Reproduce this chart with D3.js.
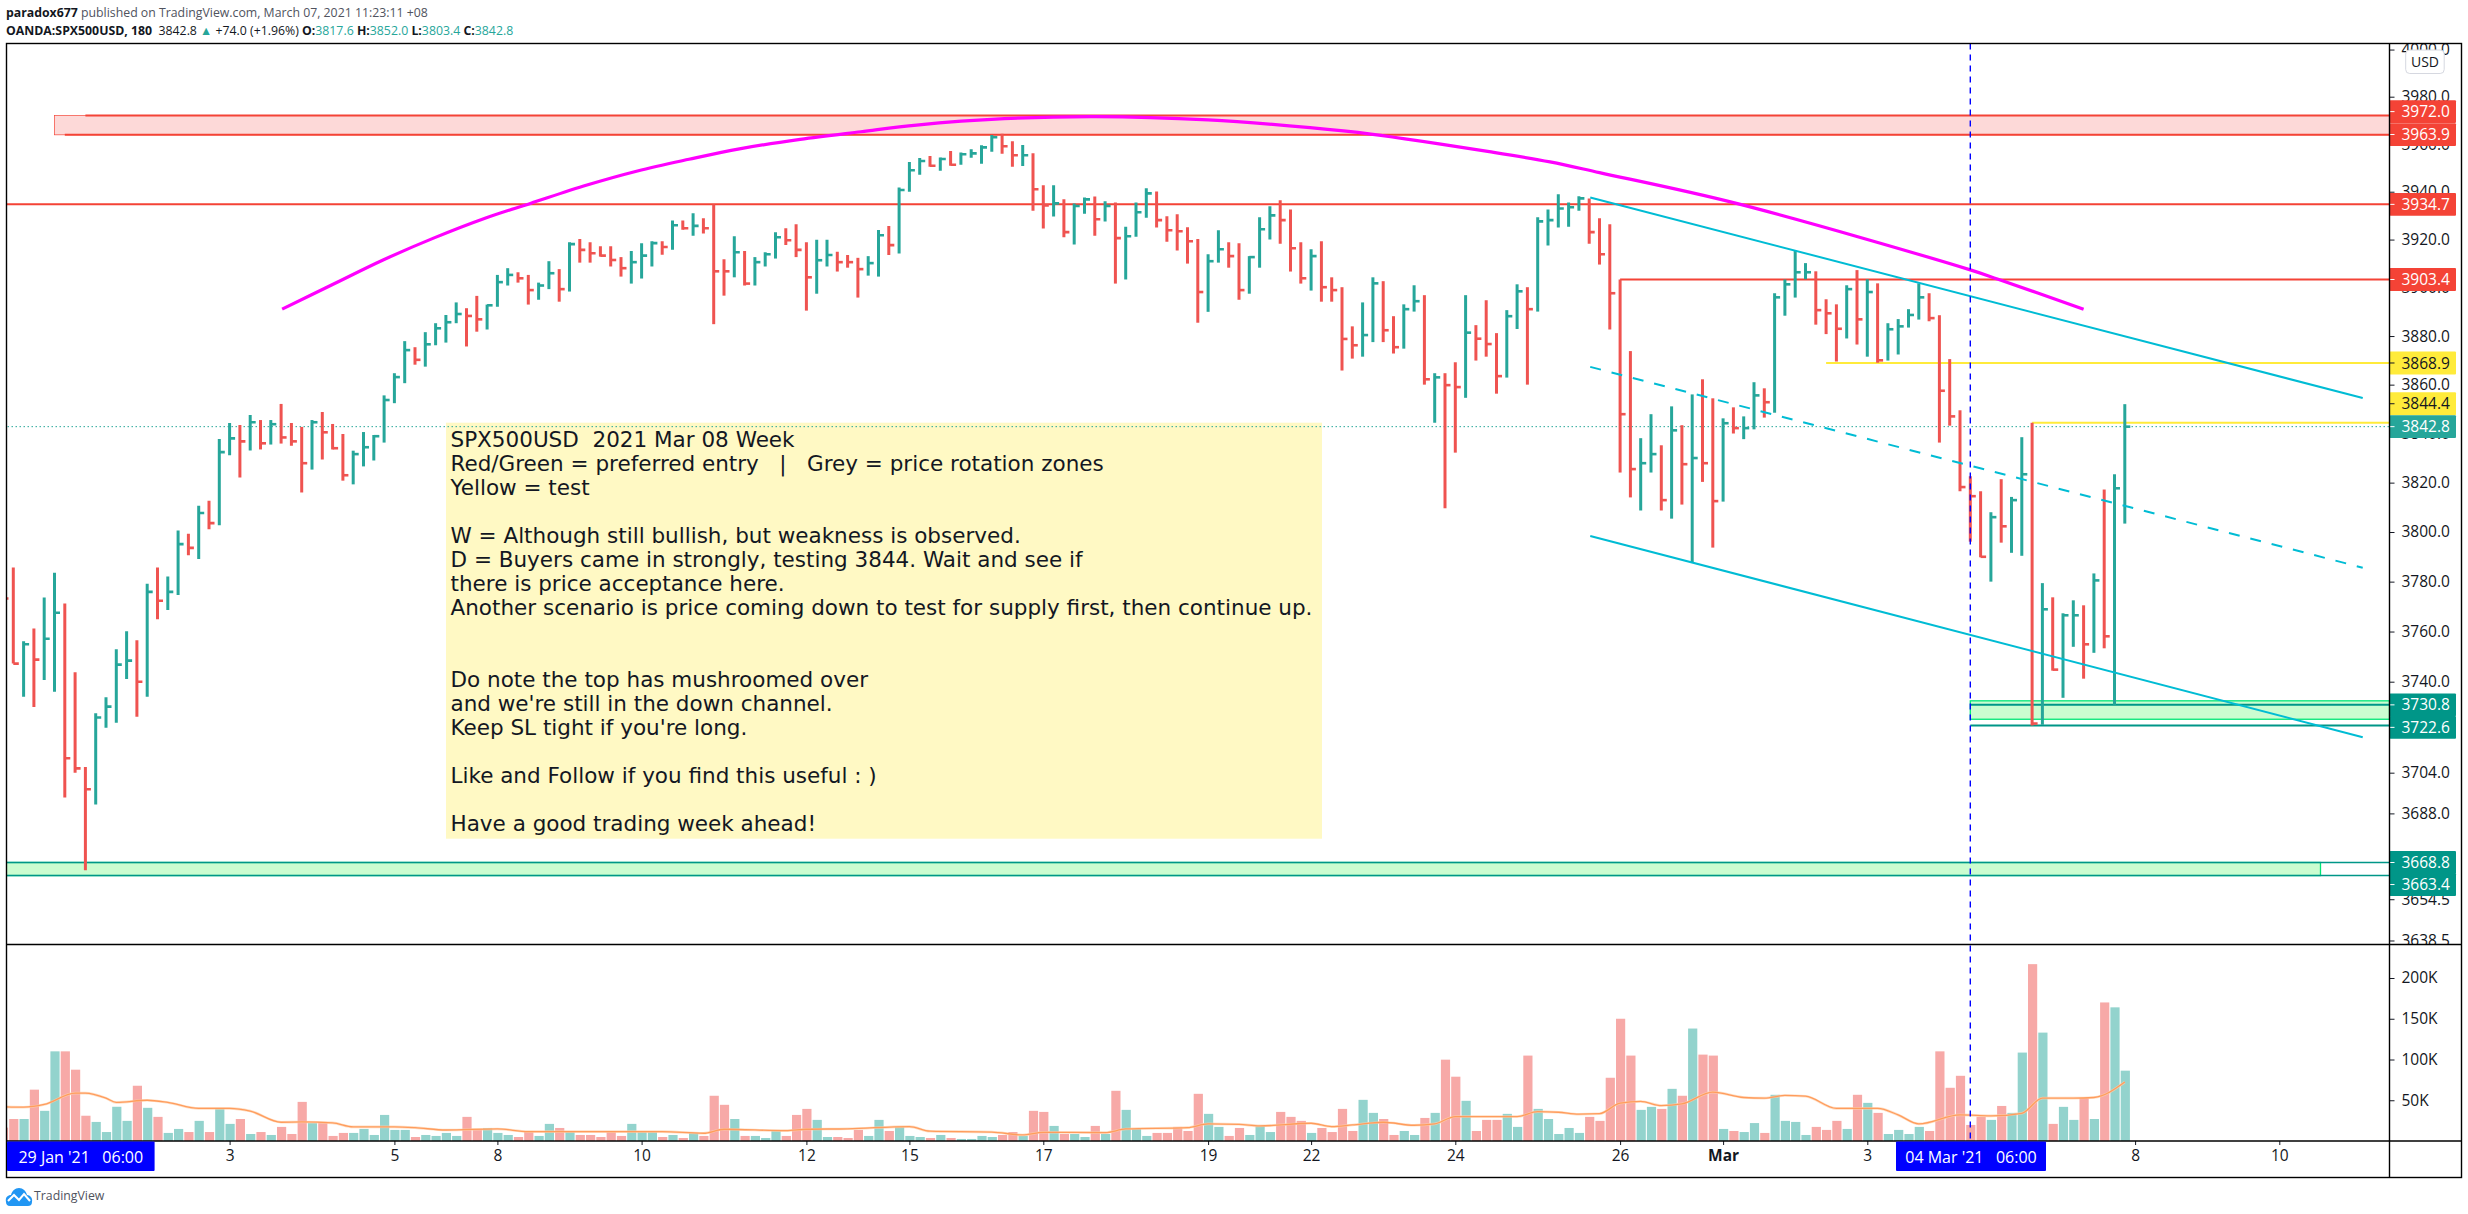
<!DOCTYPE html>
<html><head><meta charset="utf-8">
<script src="https://cdn.jsdelivr.net/npm/d3@7"></script>
<style>
html,body{margin:0;padding:0;background:#fff;overflow:hidden}
svg{display:block}
text{font-family:"Open Sans",sans-serif;white-space:pre}
</style></head><body>
<svg id="c" width="2468" height="1214"></svg>
<script>
// ---------- data ----------
const highs=[
3785,3785.7,3756.1,3761.2,3773.6,3783.6,3771.2,3743.8,3706.2,3727.5,
3733.8,3752.9,3760.1,3756.5,3779.2,3785.7,3782.1,3800.6,3799.3,3810.6,
3812.6,3837.8,3844.3,3843.5,3847.6,3845.5,3845.5,3852.1,3844.3,3842.7,
3845.5,3848.8,3843.9,3839.8,3833,3840.6,3839.4,3855.6,3864.7,3877.9,
3875.4,3881.6,3885.3,3888.7,3893.9,3891.5,3896.6,3893,3905.3,3908.1,
3906.4,3905.3,3902.1,3911,3907.7,3918.9,3920.2,3918.9,3917.2,3917.2,
3912.7,3915.2,3918.5,3919.3,3919.3,3928,3928,3931,3928.9,3934.7,
3911.8,3921.4,3915.2,3912.7,3914.7,3923.1,3924.7,3926.4,3918.9,3919.9,
3919.9,3914.9,3913.6,3912.4,3913.1,3924,3925.7,3941.8,3952.5,3954.1,
3955,3954.4,3957.1,3956.5,3957.8,3959.5,3963.8,3964.4,3961.2,3959.6,
3956.1,3942.7,3942.7,3936.8,3935.1,3937.6,3938,3936,3935.5,3925.3,
3935.5,3941.4,3940.1,3929.7,3930.6,3925.1,3920.2,3913.9,3923.9,3918.9,
3918.5,3913.1,3929.3,3933.9,3936.4,3932.6,3918.9,3916,3919.3,3904.3,
3900.2,3884,3893.9,3904.3,3902.7,3888.2,3893.1,3901,3896.9,3864.7,
3864.7,3869.2,3896.9,3884.5,3894.8,3881.2,3890.7,3901.4,3900.2,3929.3,
3932.6,3938.9,3935.5,3938.1,3937.2,3928.9,3926.4,3903.4,3873.8,3838.1,
3847.9,3835.2,3851.1,3843.4,3856,3862.2,3854.4,3846.2,3850.7,3847,
3861,3858.5,3897.7,3903.4,3915.6,3910.2,3906.8,3895.2,3893.1,3901,
3907.3,3903.5,3901.8,3885.3,3887,3891.1,3901.8,3897.7,3888.6,3870.5,
3849.5,3822.6,3816.5,3808,3821.4,3814.2,3838.5,3844.4,3779.4,3773.7,
3767.3,3772.5,3770.5,3783.3,3817.2,3823.4,3852];
const lows=[
3760,3747.2,3734,3730,3740.7,3736,3694.2,3704,3665.8,3691.5,
3721.7,3723.7,3741.1,3726.1,3734,3764.9,3768.6,3774.6,3790.6,3789.1,
3801.1,3802.7,3831.1,3822.1,3833.1,3833.5,3835.5,3835.9,3835,3816,
3825.3,3829.4,3833.5,3820.8,3819.3,3826.6,3829,3836.3,3852.4,3860.6,
3868.2,3867.4,3876.2,3877.3,3885.3,3875.7,3881.8,3882.7,3892.1,3900.9,
3902.1,3893,3895,3899.4,3894.2,3898.4,3910.4,3910.4,3912.9,3908.8,
3904.6,3901.7,3903.8,3908.8,3913.7,3915.8,3924.1,3921.6,3922.5,3884.9,
3896.7,3904.3,3900.9,3900.9,3908.8,3912.1,3917.7,3912.7,3890.5,3897.5,
3908.8,3906.7,3908.3,3895.9,3905,3904.6,3913.6,3914.2,3940,3947.1,
3950.5,3948.8,3950.9,3951.3,3954.3,3951.7,3956.8,3955.9,3950.5,3950.8,
3932,3924.6,3929.6,3921,3917.9,3930.8,3921.6,3927.5,3901.7,3903.4,
3921.2,3929.1,3925,3919.1,3915.4,3910,3885.5,3890,3910.4,3908.3,
3895,3897.5,3908.3,3920,3918.3,3906.7,3901.7,3898.8,3894.2,3894.2,
3865.8,3870.7,3871.5,3877.5,3877.5,3872.8,3874.8,3890.1,3860,3844.4,
3809.6,3832.2,3854.6,3869.9,3871.5,3856.3,3862.9,3882.9,3860,3890.1,
3917.5,3925,3925.4,3932,3918.3,3909.6,3882.7,3824.1,3814,3808.7,
3824.1,3808.7,3805.4,3811.1,3787.9,3820.3,3793.7,3812.3,3840,3837.7,
3841.7,3846.5,3848.5,3888.4,3895.9,3903.5,3884.7,3880.8,3869.5,3879,
3876.5,3871.5,3869,3869.9,3872.4,3883.5,3886.8,3886.1,3836.3,3843.2,
3816.5,3796.1,3789.8,3780,3795.7,3791.6,3790.4,3722.6,3722.9,3744.4,
3733.6,3753.9,3741.2,3751.5,3753.3,3730.8,3803.4];
const closes=[
3773.2,3747.2,3754.9,3748.8,3757.1,3767.5,3709.7,3705.7,3697.5,3725.8,
3730.1,3746.8,3748.4,3740,3775.9,3772.3,3775.9,3795.1,3793.6,3807.7,
3803.6,3832.4,3838,3836.8,3844.6,3836,3843.8,3838.4,3836.8,3827.9,
3844.6,3840.5,3834,3823,3831.6,3834.4,3838.9,3853.7,3863.1,3874.2,
3870.2,3876.6,3883.2,3885.7,3889.1,3888.3,3886.9,3892.7,3902.3,3905.3,
3903.9,3899,3900.9,3906,3899.4,3918.1,3915.7,3914.3,3913.3,3911.5,
3908.1,3910.6,3913.3,3918.5,3916.9,3926,3924.7,3925.7,3924.7,3906.8,
3906.8,3914.7,3901.7,3910.6,3913.9,3921,3919.7,3915.7,3904.3,3911.4,
3913.6,3910.6,3910.6,3907.7,3910.2,3921.8,3917.7,3940.7,3949,3952.9,
3950.9,3953.7,3951.3,3955.7,3956.1,3958.6,3962.9,3959.1,3955.3,3955.3,
3941,3934.3,3935.1,3923.1,3934,3936.8,3928.5,3934,3920.6,3921.4,
3931.4,3939.3,3928.1,3923.9,3923.5,3919.3,3898.2,3911,3916,3913.1,
3899,3912.7,3924.3,3930.1,3928.1,3916.4,3903.9,3913.1,3900.2,3899,
3878.8,3876.2,3880.4,3901.8,3882.4,3875.4,3891.1,3894.4,3862.2,3863,
3859.8,3859,3881.4,3878.9,3876.7,3863.5,3888.2,3898.5,3891.1,3927.6,
3928.1,3933,3933.5,3937.2,3923.1,3913.9,3897.7,3847.9,3825.5,3827.9,
3831.6,3812.9,3841.3,3827.5,3830,3827.9,3812.5,3844.2,3842.2,3842.2,
3855.6,3852.8,3896,3901.4,3906.4,3906.4,3890.7,3889.4,3883,3899.4,
3886.9,3898.2,3870,3882.8,3884,3888.7,3896,3887.4,3857.5,3847,
3818.2,3814.5,3790,3806,3802.3,3812.9,3823.4,3723.4,3768.9,3744.8,
3766.5,3766.5,3754.9,3780.5,3758.1,3817.7,3842.8];
const barDirections=("rrgrggrrrg"+"gggrgrggrg"+"rggrgrgrrr"+"grrrgggggg"+"rggggrrggg"+
"rrggrgrrrr"+"rgggrgrgrr"+"rgrgggrrrg"+"grrrggrggg"+"rgrggggrrg"+
"rrgrggrgrg"+"ggrrrrrggr"+"rgggrrrgrr"+"rrggrrggrg"+"rrgrrrggrg"+
"ggggrrrrrg"+"grgrgrrgrg"+"grggggrrrg"+"rgrggggrrr"+"rrrgrggrgr"+"ggrgrgg").split("");
const volumesK=[
16.4,27,27,63,37,110,110,87.5,31,23.4,
11,42,24.7,67.8,40.7,29.6,9.9,14.8,11,24.7,
11,39.4,21,27,8.6,11,7.4,17.3,8.6,48,
22,23.4,6.2,9.9,9.9,14.8,7.4,32,13.6,13.6,
4.9,7.4,6.2,9.9,6.2,29.6,14.8,16,9.9,7.4,
4.9,12.3,6.2,21,16,11,7.4,7.4,4.9,11,
6.2,21,12.3,11,4.9,7.4,3.7,9.9,6.2,55.5,
44.4,27,6.2,6.2,3.7,12.3,6.2,32,39.4,25.9,
4.9,4.9,3.7,13.6,6.2,25.9,12.3,17.3,6.2,4.9,
3.7,7.4,3.7,2.5,2.5,6.2,4.9,7.4,11,6.2,
37,35.7,18.5,8.6,8.6,4.9,18.5,8.6,61.6,38.2,
14.8,6.2,9.9,9.9,17.3,12.3,57.9,33.3,17.3,6.2,
16,7.4,18.5,11,35.7,29.6,24.7,9.9,16,11,
39.4,12.3,50.5,34.5,27,7.4,12.3,7.4,28.3,34.5,
99.8,78.9,49.3,12.3,25.9,25.9,33.3,17.3,104.8,39.4,
27,8.6,16,9.9,29.6,24.7,77.6,150,104.8,38.2,
41.9,39.4,64,55.5,138,106,104.8,14.8,12.3,11,
22,9.9,56.7,24.7,23.4,7.4,17.3,13.6,24.7,14.8,
56.7,46.8,34.5,8.6,13.6,8.6,17.3,12.3,110,65.3,
80,19.7,29.6,25.9,43,34.5,108.5,217,133,21,
41.9,25.9,53,27,170,164,86.3];
const maIndex=[0,2,4,7,8,10,11,14,16,19,22,24,27,29,32,34,38,40,43,48,51,57,64,68,70,76,78,
82,88,90,96,99,101,107,109,115,117,120,122,127,129,131,134,137,139,141,147,149,151,153,155,
157,159,161,163,166,169,171,173,175,178,182,184,186,190,193,196,198,201,203,206];
const maValueK=[42,41.5,44.8,58.8,58.8,52.6,47.3,50,47.3,40,40,36.7,23,23.4,22.2,17.3,17.3,16.4,13.5,14.8,11.5,11.5,11.5,9.5,14.4,12.7,14.4,
15,17.7,12,11,7.4,10.7,10.3,14.8,16.4,21,20.5,18.5,21.8,17.7,19.7,23,19.3,21,30,30,36,35.3,32.9,33.5,
46.4,48.5,43.5,45.6,60,53.4,52.6,55.9,55,40,40,32,21,32,30.8,34,52.6,52.6,53.4,72.3];
const arcIndex=[27.1,31.9,36.9,41.8,46.8,51.2,56.7,61.6,66.6,71.5,77.4,83.3,88.7,97.2,106.1,117,126.9,132.8,144.3,150.2,155,168.3,191,193.7,202];
const arcPrice=[3891.1,3901.1,3911.5,3920.6,3928.9,3935.1,3942.8,3948.7,3953.6,3958,3962,3965.2,3968,3970.7,3971.6,3970.2,3966.9,3964.2,3956.8,3952.5,3948,3935.1,3907.4,3903.5,3891.1];
const channelIndex=[154.1,229.1];
const channelTop=[3937.6,3854.5];
const channelMid=[3867.3,3785.6];
const channelBottom=[3798.4,3718];
const priceTicks=[4000,3980,3960,3940,3920,3900,3880,3860,3840,3820,3800,3780,3760,3740,3704,3688,3654.5,3638.5];
const volumeTicksK=[50,100,150,200];
const timeTickIndex=[22,38,48,62,78,88,101,117,127,141,157,167,181,207,221];
const timeTickLabels=["3","5","8","10","12","15","17","19","22","24","26","Mar","3","8","10"];
const levelValues=[3972.0,3963.9,3934.7,3903.4,3868.9,3844.4,3842.8,3730.8,3722.6,3668.8,3663.4];
const levelKinds=["red","red","red","red","yellow","yellow","last","teal","teal","teal","teal"];
const noteLines=["SPX500USD  2021 Mar 08 Week",
"Red/Green = preferred entry   |   Grey = price rotation zones",
"Yellow = test","",
"W = Although still bullish, but weakness is observed.",
"D = Buyers came in strongly, testing 3844. Wait and see if",
"there is price acceptance here.",
"Another scenario is price coming down to test for supply first, then continue up.",
"","",
"Do note the top has mushroomed over",
"and we're still in the down channel.",
"Keep SL tight if you're long.","",
"Like and Follow if you find this useful : )","",
"Have a good trading week ahead!"];

// ---------- scales ----------
const x=d3.scaleLinear().domain([0,206]).range([3,2124.8]);
const yP=d3.scaleLog().domain([3980,3740]).range([96.7,681.7]);
const yV=d3.scaleLinear().domain([0,200]).range([1141,978]);
const L=6.5,R=2389.5,T=43.5,PB=944.5,VB=1141,B=1177.5,OR=2461.5;
const GREEN="#26a69a",RED="#ef5350",TEAL="#009688",REDL="#f44336",YEL="#ffeb3b",CYAN="#00bcd4",LIME="#00e676";

const svg=d3.select("#c");
const defs=svg.append("defs");
defs.append("clipPath").attr("id","cp").append("rect").attr("x",L).attr("y",T).attr("width",R-L).attr("height",PB-T);
defs.append("clipPath").attr("id","cv").append("rect").attr("x",L).attr("y",PB).attr("width",R-L).attr("height",VB-PB);
defs.append("clipPath").attr("id","cax").append("rect").attr("x",R).attr("y",T).attr("width",OR-R).attr("height",PB-T);
svg.append("rect").attr("width",2468).attr("height",1214).attr("fill","#fff");

// ---------- header ----------
const h1=svg.append("text").attr("x",6).attr("y",17).attr("font-size",12.3).attr("fill","#131722");
h1.append("tspan").attr("font-weight",700).text("paradox677");
h1.append("tspan").attr("fill","#50535e").text(" published on TradingView.com, March 07, 2021 11:23:11 +08");
const h2=svg.append("text").attr("x",6).attr("y",35).attr("font-size",12.3).attr("fill","#131722");
h2.append("tspan").attr("font-weight",700).text("OANDA:SPX500USD, 180");
h2.append("tspan").text("  3842.8 ");
h2.append("tspan").attr("fill",GREEN).text("▲");
h2.append("tspan").text(" +74.0 (+1.96%) ");
[["O:","3817.6"],["H:","3852.0"],["L:","3803.4"],["C:","3842.8"]].forEach(([a,b])=>{
  h2.append("tspan").attr("font-weight",700).text(a);
  h2.append("tspan").attr("fill",GREEN).text(b+" ");
});

// ---------- price pane ----------
const pane=svg.append("g").attr("clip-path","url(#cp)");
// note box
pane.append("rect").attr("x",446).attr("y",422.7).attr("width",876).attr("height",416).attr("fill","#fff9c4");
const note=svg.append("g");
noteLines.forEach((s,i)=>{ if(s) note.append("text").attr("x",450.5).attr("y",446.7+24*i)
  .style("font-family","'DejaVu Sans'").attr("font-size",21.5).attr("fill","#131722").text(s);});

// zones
const hline=(g,i0,i1,p,c,w,op)=>g.append("line").attr("x1",x(i0)).attr("x2",x(i1)).attr("y1",yP(p)).attr("y2",yP(p)).attr("stroke",c).attr("stroke-width",w).attr("opacity",op||1);
const far=300;
pane.append("rect").attr("x",x(5)).attr("width",R-x(5)).attr("y",yP(3972)).attr("height",yP(3963.9)-yP(3972)).attr("fill","#fdd9d8").attr("stroke",REDL).attr("stroke-width",.7);
hline(pane,8,far,3972,REDL,2);
hline(pane,6,far,3963.9,REDL,2);
hline(pane,-5,far,3934.7,REDL,2);
hline(pane,157,far,3903.4,REDL,2);
hline(pane,177,far,3868.9,YEL,2);
hline(pane,197,far,3844.4,YEL,2);
// green zones
pane.append("rect").attr("x",x(191)).attr("width",R-x(191)).attr("y",yP(3732.4)).attr("height",yP(3725.1)-yP(3732.4)).attr("fill","#cbfdd0").attr("stroke",LIME).attr("stroke-width",1.3);
hline(pane,191,far,3730.8,TEAL,2);
hline(pane,191,far,3722.6,TEAL,2);
pane.append("rect").attr("x",L-5).attr("width",x(225)-L+5).attr("y",yP(3668.8)).attr("height",yP(3663.7)-yP(3668.8)).attr("fill","#cbfdd0").attr("stroke",LIME).attr("stroke-width",1.3);
hline(pane,-5,far,3668.8,TEAL,1.5);
hline(pane,-5,far,3663.7,TEAL,1.5);

// last price dotted
hline(pane,-5,far,3842.8,GREEN,1).attr("stroke-dasharray","1.5 2.5");

// OHLC bars
const bars=pane.append("g").selectAll("g").data(closes).join("g");
bars.append("line").attr("x1",(d,i)=>x(i)).attr("x2",(d,i)=>x(i))
  .attr("y1",(d,i)=>yP(highs[i])).attr("y2",(d,i)=>yP(lows[i]))
  .attr("stroke",(d,i)=>barDirections[i]==="g"?GREEN:RED).attr("stroke-width",3);
bars.append("line").attr("x1",(d,i)=>x(i)).attr("x2",(d,i)=>x(i)+5.5)
  .attr("y1",d=>yP(d)).attr("y2",d=>yP(d))
  .attr("stroke",(d,i)=>barDirections[i]==="g"?GREEN:RED).attr("stroke-width",2.6);

// channel
const ln=d3.line().x((d,i)=>x(channelIndex[i])).y(d=>yP(d));
pane.append("path").attr("d",ln(channelTop)).attr("fill","none").attr("stroke",CYAN).attr("stroke-width",2);
pane.append("path").attr("d",ln(channelBottom)).attr("fill","none").attr("stroke",CYAN).attr("stroke-width",2);
pane.append("path").attr("d",ln(channelMid)).attr("fill","none").attr("stroke",CYAN).attr("stroke-width",2).attr("stroke-dasharray","11 11");
// arc
const arc=d3.line().x((d,i)=>x(arcIndex[i])).y(d=>yP(d)).curve(d3.curveCatmullRom);
pane.append("path").attr("d",arc(arcPrice)).attr("fill","none").attr("stroke","#ff00ff").attr("stroke-width",3.2);

// ---------- volume pane ----------
const vol=svg.append("g").attr("clip-path","url(#cv)");
vol.selectAll("rect").data(volumesK).join("rect")
  .attr("x",(d,i)=>x(i)-4.1).attr("width",9.2)
  .attr("y",d=>yV(d)).attr("height",d=>yV(0)-yV(d))
  .attr("fill",(d,i)=>barDirections[i]==="g"?"#93d3cd":"#f7a9a7");
const maLine=d3.line().x((d,i)=>x(maIndex[i])).y(d=>yV(d)).curve(d3.curveMonotoneX);
vol.append("path").attr("d",maLine(maValueK)).attr("fill","none").attr("stroke","#ffcfa8").attr("stroke-width",2.6).attr("opacity",.7);
vol.append("path").attr("d",maLine(maValueK)).attr("fill","none").attr("stroke","#ff9c5c").attr("stroke-width",1.3);

// vertical dashed
svg.append("line").attr("x1",x(191)).attr("x2",x(191)).attr("y1",T).attr("y2",VB).attr("stroke","#0000ff").attr("stroke-width",1.4).attr("stroke-dasharray","6 5");

// ---------- axes ----------
const styleAxis=g=>{g.select(".domain").remove();
  g.selectAll("text").attr("font-size",15.5).attr("fill","#131722").style("font-family","'Open Sans'");
  g.selectAll("line").attr("stroke","#131722");};
svg.append("g").attr("clip-path","url(#cax)").append("g").attr("transform",`translate(${R},0)`)
  .call(d3.axisRight(yP).tickValues(priceTicks).tickFormat(d3.format(".1f")).tickSize(5).tickPadding(7)).call(styleAxis);
svg.append("g").attr("transform",`translate(${R},0)`)
  .call(d3.axisRight(yV).tickValues(volumeTicksK).tickFormat(d=>d+"K").tickSize(5).tickPadding(7)).call(styleAxis);
const axT=svg.append("g").attr("transform",`translate(0,${VB})`)
  .call(d3.axisBottom(x).tickValues(timeTickIndex).tickFormat((d,i)=>timeTickLabels[i]).tickSize(4).tickPadding(5)).call(styleAxis);
axT.selectAll("text").filter(function(){return d3.select(this).text()==="Mar"}).attr("font-weight",700);

// USD box
svg.append("rect").attr("x",2405.7).attr("y",50).attr("width",38.5).attr("height",23.5).attr("rx",4).attr("fill","#fff").attr("stroke","#d6d8e0");
svg.append("text").attr("x",2425).attr("y",67).attr("text-anchor","middle").attr("font-size",14).attr("fill","#131722").text("USD");

// level labels (vertical offsets avoid overlaps, as the source app does)
const labelNudge={3972:-4,3963.9:-.3,3844.4:-19,3722.6:1.8,3663.4:8.2};
const kindFill={red:REDL,yellow:YEL,last:GREEN,teal:TEAL};
const labs=svg.append("g").selectAll("g").data(levelValues).join("g")
  .attr("transform",d=>`translate(${R},${yP(d)+(labelNudge[d]||0)})`);
labs.append("rect").attr("x",0).attr("y",-11.4).attr("width",66.5).attr("height",22.8).attr("rx",1)
  .attr("fill",(d,i)=>kindFill[levelKinds[i]]);
labs.append("line").attr("x1",0).attr("x2",5).attr("stroke",(d,i)=>levelKinds[i]==="yellow"?"#131722":"#fff");
labs.append("text").attr("x",12).attr("dy","0.36em").attr("font-size",15.5)
  .attr("fill",(d,i)=>levelKinds[i]==="yellow"?"#131722":"#fff").text(d=>d3.format(".1f")(d));

// frame
const fr=svg.append("g").attr("stroke","#000").attr("stroke-width",1.4).attr("fill","none");
fr.append("rect").attr("x",L).attr("y",T).attr("width",OR-L).attr("height",B-T);
fr.append("line").attr("x1",L).attr("x2",OR).attr("y1",PB).attr("y2",PB);
fr.append("line").attr("x1",L).attr("x2",OR).attr("y1",VB).attr("y2",VB);
fr.append("line").attr("x1",R).attr("x2",R).attr("y1",T).attr("y2",B);

// crosshair time labels
const blue=[[7,147.6,"29 Jan '21   06:00"],[1896,150,"04 Mar '21   06:00"]];
blue.forEach(([bx,bw,t])=>{
  svg.append("rect").attr("x",bx).attr("y",VB+.5).attr("width",bw).attr("height",29.5).attr("rx",1).attr("fill","#0000ff");
  svg.append("text").attr("x",bx+bw/2).attr("y",VB+22).attr("text-anchor","middle").attr("font-size",16).attr("fill","#fff").text(t);
});

// logo
const logo=svg.append("g").attr("transform","translate(6,1188)");
logo.append("path").attr("d","M0 14 C-1 9 2 7 5 7 C6 3 9 0 13 0 C17 0 20 3 21 7 C24 7 27 10 26 14 C26 17 24 18 22 18 L4 18 C1 18 0 16 0 14 Z").attr("fill","#2196f3");
logo.append("path").attr("d","M2 13 L8 7 L13 12 L18 6 L24 13").attr("fill","none").attr("stroke","#fff").attr("stroke-width",2);
svg.append("text").attr("x",34).attr("y",1200).attr("font-size",12.3).attr("fill","#50535e").text("TradingView");
</script>
</body></html>
